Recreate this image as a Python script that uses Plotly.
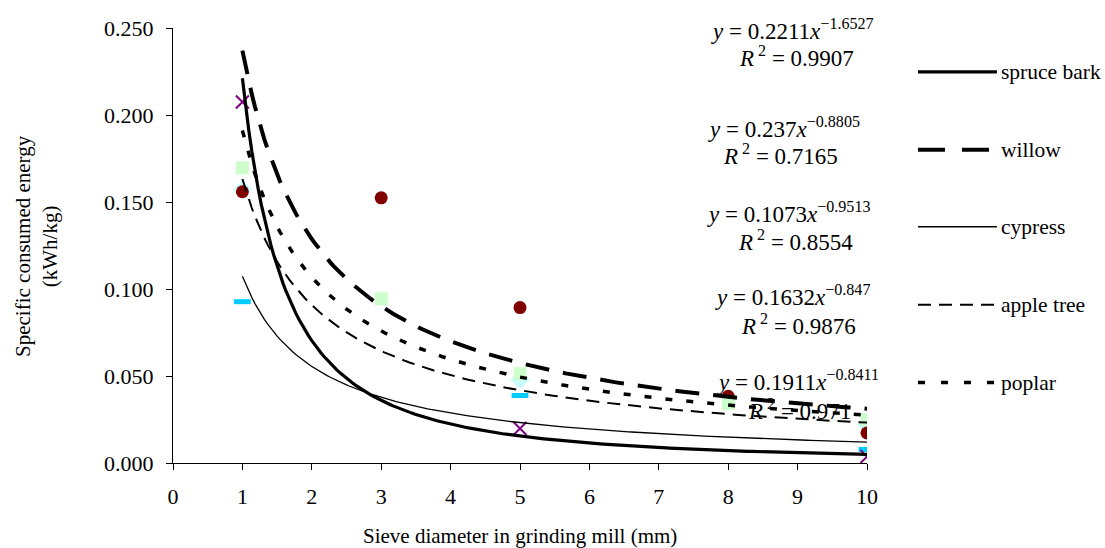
import numpy as np
import plotly.graph_objects as go

# ---- data ----
species = ["spruce bark", "willow", "cypress", "apple tree", "poplar"]

spruce_x = [1, 5, 10]
spruce_y = [0.2075, 0.0198, 0.0037]

willow_x = [1, 3, 5, 8, 10]
willow_y = [0.1559, 0.1524, 0.0893, 0.0383, 0.0173]

cypress_x = [1, 5, 10]
cypress_y = [0.0927, 0.0388, 0.0078]

apple_x = [1, 5, 10]
apple_y = [0.157, 0.048, 0.022]

poplar_x = [1, 3, 5, 8, 10]
poplar_y = [0.1696, 0.0944, 0.0514, 0.0342, 0.025]

# power trendline coefficients y = a * x^b (as printed on the chart)
fit_a = [0.2211, 0.237, 0.1073, 0.1632, 0.1911]
fit_b = [-1.6527, -0.8805, -0.9513, -0.847, -0.8411]
fit_r2 = ["0.9907", "0.7165", "0.8554", "0.9876", "0.971"]
fit_a_txt = ["0.2211", "0.237", "0.1073", "0.1632", "0.1911"]
fit_b_txt = ["1.6527", "0.8805", "0.9513", "0.847", "0.8411"]

x_ticks = list(range(0, 11))
y_ticks = [0.0, 0.05, 0.1, 0.15, 0.2, 0.25]

# ---- layout geometry (pixels) ----
W, H = 1105, 548
L, R, T, B = 172.6, 867.0, 28.0, 463.5
PW, PH = R - L, B - T


def px(xp):
    return (xp - L) / PW


def py(yp):
    return (B - yp) / PH


FONT = "Liberation Serif"

fig = go.Figure()

# markers (drawn first, trendlines on top)
fig.add_trace(go.Scatter(x=apple_x, y=apple_y, mode="markers",
                         marker=dict(symbol="diamond", size=15, color="#CCFFFF",
                                     line=dict(width=0)), showlegend=False))
fig.add_trace(go.Scatter(x=cypress_x, y=cypress_y, mode="markers",
                         marker=dict(symbol="line-ew", size=12,
                                     line=dict(width=5, color="#00CCFF")), showlegend=False))
fig.add_trace(go.Scatter(x=spruce_x, y=spruce_y, mode="markers",
                         marker=dict(symbol="x-thin", size=13,
                                     line=dict(width=2, color="#800080")), showlegend=False))
fig.add_trace(go.Scatter(x=willow_x, y=willow_y, mode="markers",
                         marker=dict(symbol="circle", size=13, color="#800000",
                                     line=dict(width=0)), showlegend=False))
fig.add_trace(go.Scatter(x=poplar_x, y=poplar_y, mode="markers",
                         marker=dict(symbol="square", size=13, color="#CCFFCC",
                                     line=dict(width=0)), showlegend=False))

styles = [
    dict(width=3.2, dash="solid"),
    dict(width=4, dash="24px,14px"),
    dict(width=1.3, dash="solid"),
    dict(width=2, dash="13px,8px"),
    dict(width=3.5, dash="7px,14px"),
]

xs = np.linspace(1, 10, 200)
for i in range(5):
    ys = fit_a[i] * xs ** fit_b[i]
    fig.add_trace(go.Scatter(x=xs, y=ys, mode="lines",
                             line=dict(color="black", width=styles[i]["width"],
                                       dash=styles[i]["dash"]),
                             showlegend=False, hoverinfo="skip"))

annotations = []
shapes = []

# equations
eq_y = [30, 128, 213, 296, 381]
r2_y = [57, 155, 241, 325, 410]
eq_x = [709, 706, 705, 713, 715]
r2_x = [737, 721, 736, 739, 746]
for i in range(5):
    annotations.append(dict(
        x=px(eq_x[i]), y=py(eq_y[i]), xref="paper", yref="paper",
        xanchor="left", yanchor="middle", showarrow=False,
        text=f"<i>y</i> = {fit_a_txt[i]}<i>x</i><sup>\u2212{fit_b_txt[i]}</sup>",
        font=dict(family=FONT, size=23, color="black")))
    annotations.append(dict(
        x=px(r2_x[i]), y=py(r2_y[i]), xref="paper", yref="paper",
        xanchor="left", yanchor="middle", showarrow=False,
        text=f"<i>R</i><sup> 2</sup> = {fit_r2[i]}",
        font=dict(family=FONT, size=23, color="black")))

# custom legend
leg_y = [72, 150, 227, 305, 383]
leg_dash = ["solid", "27px,17px", "solid", "13px,8px", "7px,16px"]
for i in range(5):
    shapes.append(dict(type="line", xref="paper", yref="paper",
                       x0=px(918), x1=px(997), y0=py(leg_y[i]), y1=py(leg_y[i]),
                       line=dict(color="black", width=styles[i]["width"],
                                 dash=leg_dash[i])))
    annotations.append(dict(
        x=px(999), y=py(leg_y[i]), xref="paper", yref="paper",
        xanchor="left", yanchor="middle", showarrow=False,
        text=species[i], font=dict(family=FONT, size=21.5, color="black")))

# axis titles
annotations.append(dict(
    x=px(36), y=0.5, xref="paper", yref="paper", xanchor="center", yanchor="middle",
    showarrow=False, textangle=-90,
    text="Specific consumed energy<br>(kWh/kg)",
    font=dict(family=FONT, size=21, color="black")))
annotations.append(dict(
    x=0.5, y=py(537), xref="paper", yref="paper", xanchor="center", yanchor="middle",
    showarrow=False, text="Sieve diameter in grinding mill (mm)",
    font=dict(family=FONT, size=21, color="black")))

fig.update_layout(
    width=W, height=H,
    margin=dict(l=L, r=W - R, t=T, b=H - B, autoexpand=False),
    paper_bgcolor="white", plot_bgcolor="white",
    font=dict(family=FONT, size=22, color="black"),
    annotations=annotations, shapes=shapes,
    showlegend=False,
)
fig.update_xaxes(range=[0, 10], tickvals=x_ticks, ticktext=[str(v) for v in x_ticks],
                 showgrid=False, zeroline=False, showline=True, linecolor="black",
                 linewidth=1, ticks="outside", ticklen=6, tickcolor="black",
                 ticklabelstandoff=8, tickfont=dict(family=FONT, size=22))
fig.update_yaxes(range=[0, 0.25], tickvals=y_ticks, tickformat=".3f",
                 showgrid=False, zeroline=False, showline=True, linecolor="black",
                 linewidth=1, ticks="outside", ticklen=6, tickcolor="black",
                 ticklabelstandoff=8, tickfont=dict(family=FONT, size=22))

fig.write_html("out.html", config={"displayModeBar": False},
               post_script="document.body.style.margin='0';document.body.style.padding='0';")
